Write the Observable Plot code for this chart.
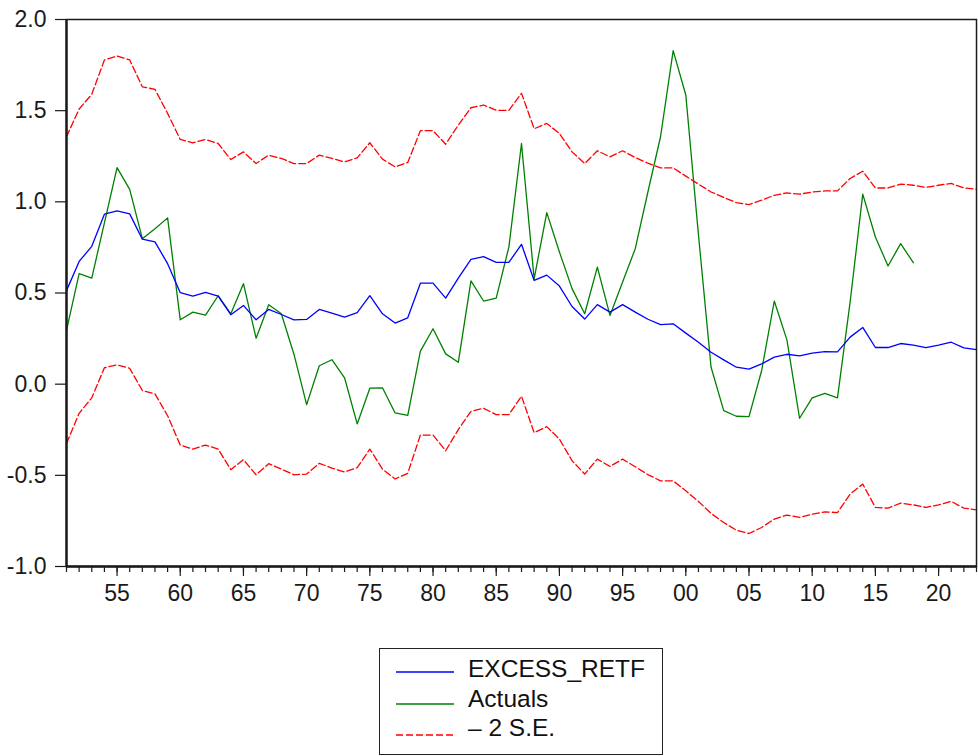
<!DOCTYPE html>
<html>
<head>
<meta charset="utf-8">
<script src="https://cdn.jsdelivr.net/npm/d3@7"></script>
<script src="https://cdn.jsdelivr.net/npm/@observablehq/plot@0.6"></script>
<style>
  html, body { margin: 0; padding: 0; background: #fff; }
  body { width: 978px; height: 756px; position: relative; overflow: hidden;
         font-family: "Liberation Sans", Arial, sans-serif; }
  #legend { position: absolute; left: 379px; top: 648px; width: 284px; height: 107px;
            border: 1px solid #222; box-sizing: border-box; background: #fff; }
  .row { position: absolute; left: 0; height: 30px; display: flex; align-items: center; }
  .row svg { margin-left: 16px; margin-right: 14px; }
  .row span { font-size: 24.5px; color: #111; }
</style>
</head>
<body>
<div id="chart"></div>
<div id="legend"></div>
<script>
// Annual observations, 1951–2023
const years = d3.range(1951, 2024);

// Forecast of excess returns (EXCESS_RETF)
const forecast = [
  0.513, 0.673, 0.756, 0.932, 0.950, 0.934, 0.795, 0.780, 0.661, 0.502,
  0.483, 0.503, 0.483, 0.381, 0.432, 0.353, 0.410, 0.382, 0.353, 0.355,
  0.410, 0.390, 0.368, 0.392, 0.485, 0.386, 0.335, 0.364, 0.554, 0.554,
  0.472, 0.582, 0.685, 0.699, 0.668, 0.668, 0.767, 0.569, 0.598, 0.538,
  0.426, 0.357, 0.436, 0.395, 0.436, 0.395, 0.356, 0.327, 0.331, 0.280,
  0.230, 0.175, 0.133, 0.093, 0.082, 0.111, 0.148, 0.164, 0.155, 0.170,
  0.179, 0.177, 0.258, 0.311, 0.201, 0.201, 0.223, 0.214, 0.201, 0.214,
  0.230, 0.199, 0.190
];

// Upper band: forecast + 2 standard errors
const upperBand = [
  1.357, 1.509, 1.590, 1.778, 1.800, 1.778, 1.631, 1.617, 1.485, 1.342,
  1.324, 1.342, 1.320, 1.232, 1.274, 1.210, 1.256, 1.238, 1.210, 1.210,
  1.256, 1.238, 1.219, 1.241, 1.324, 1.234, 1.192, 1.216, 1.390, 1.390,
  1.316, 1.421, 1.516, 1.531, 1.502, 1.502, 1.595, 1.401, 1.430, 1.375,
  1.274, 1.210, 1.280, 1.247, 1.280, 1.243, 1.212, 1.186, 1.186, 1.141,
  1.097, 1.054, 1.024, 0.996, 0.985, 1.009, 1.036, 1.049, 1.042, 1.054,
  1.060, 1.060, 1.128, 1.168, 1.076, 1.076, 1.097, 1.091, 1.079, 1.091,
  1.101, 1.076, 1.069
];

// Lower band: forecast - 2 standard errors
const lowerBand = [
  -0.325, -0.160, -0.075, 0.090, 0.106, 0.087, -0.035, -0.053, -0.173, -0.334,
  -0.356, -0.334, -0.356, -0.469, -0.414, -0.497, -0.436, -0.466, -0.497, -0.493,
  -0.434, -0.460, -0.482, -0.458, -0.356, -0.466, -0.520, -0.489, -0.279, -0.279,
  -0.365, -0.249, -0.149, -0.132, -0.167, -0.167, -0.066, -0.266, -0.233, -0.301,
  -0.420, -0.493, -0.411, -0.451, -0.411, -0.453, -0.496, -0.530, -0.530, -0.585,
  -0.643, -0.709, -0.759, -0.801, -0.819, -0.786, -0.740, -0.718, -0.731, -0.713,
  -0.700, -0.704, -0.603, -0.548, -0.676, -0.680, -0.652, -0.662, -0.676, -0.662,
  -0.643, -0.680, -0.689
];

// Realised excess returns, available through 2018
const actuals = [
  0.295, 0.606, 0.582, 0.885, 1.188, 1.068, 0.798, 0.853, 0.912, 0.353,
  0.395, 0.379, 0.485, 0.386, 0.551, 0.252, 0.436, 0.386, 0.163, -0.112,
  0.101, 0.134, 0.035, -0.218, -0.022, -0.020, -0.158, -0.171, 0.181, 0.304,
  0.166, 0.120, 0.567, 0.456, 0.472, 0.752, 1.320, 0.578, 0.941, 0.725,
  0.524, 0.386, 0.642, 0.377, 0.560, 0.743, 1.054, 1.357, 1.829, 1.586,
  0.820, 0.093, -0.145, -0.176, -0.178, 0.075, 0.456, 0.243, -0.187, -0.075,
  -0.050, -0.075, 0.450, 1.042, 0.807, 0.648, 0.771, 0.666
];

// Axis ticks
const yTicks = [-1.0, -0.5, 0.0, 0.5, 1.0, 1.5, 2.0];
const labelYears = [1955, 1960, 1965, 1970, 1975, 1980, 1985, 1990, 1995, 2000, 2005, 2010, 2015, 2020];

// Series names and styles
const seriesNames = ["EXCESS_RETF", "Actuals", "\u2013 2 S.E."];
const seriesColors = ["#0000ff", "#008000", "#ff0000"];
const seriesDash = [null, null, "7,3"];

const rows = years.map((year, i) => ({
  year,
  forecast: forecast[i],
  upper: upperBand[i],
  lower: lowerBand[i],
  actual: i < actuals.length ? actuals[i] : null
}));
const actualRows = rows.filter(d => d.actual != null);

const ink = "#1a1a1a";
const lineWidth = 1.3;

const chart = Plot.plot({
  width: 978,
  height: 618,
  marginLeft: 66,
  marginRight: 2,
  marginTop: 19,
  marginBottom: 52,
  style: {
    fontFamily: "'Liberation Sans', Arial, sans-serif",
    fontSize: "23px",
    color: ink,
    background: "#fff",
    overflow: "visible"
  },
  x: { domain: [years[0], years[years.length - 1]] },
  y: { domain: [yTicks[0], yTicks[yTicks.length - 1]] },
  marks: [
    Plot.lineY(rows, { x: "year", y: "upper", stroke: seriesColors[2], strokeWidth: lineWidth, strokeDasharray: seriesDash[2] }),
    Plot.lineY(rows, { x: "year", y: "lower", stroke: seriesColors[2], strokeWidth: lineWidth, strokeDasharray: seriesDash[2] }),
    Plot.lineY(actualRows, { x: "year", y: "actual", stroke: seriesColors[1], strokeWidth: lineWidth }),
    Plot.lineY(rows, { x: "year", y: "forecast", stroke: seriesColors[0], strokeWidth: lineWidth }),
    Plot.frame({ stroke: ink, strokeWidth: 1.5 }),
    Plot.ruleX([years[0]], { stroke: ink, strokeWidth: 2.4 }),
    Plot.ruleY([yTicks[0]], { stroke: ink, strokeWidth: 2.4 }),
    Plot.axisY({
      ticks: yTicks, tickSize: 11, tickPadding: 9, label: null,
      tickFormat: d => d.toFixed(1), fontSize: 23, stroke: ink, strokeWidth: 1.2
    }),
    Plot.axisX({
      ticks: years, tickSize: 6, label: null, tickFormat: () => "",
      stroke: ink, strokeWidth: 1.2
    }),
    Plot.axisX({
      ticks: labelYears, tickSize: 10, tickPadding: 8, label: null,
      tickFormat: d => String(d % 100).padStart(2, "0"),
      fontSize: 23, stroke: ink, strokeWidth: 1.2
    })
  ]
});
document.getElementById("chart").appendChild(chart);

// Legend with line samples
const legend = document.getElementById("legend");
seriesNames.forEach((name, i) => {
  const row = document.createElement("div");
  row.className = "row";
  row.style.top = (5 + i * 29.5) + "px";
  const sw = d3.create("svg").attr("width", 58).attr("height", 30);
  sw.append("line")
    .attr("x1", 0).attr("x2", 58).attr("y1", 18 + i * 2).attr("y2", 18 + i * 2)
    .attr("stroke", seriesColors[i]).attr("stroke-width", lineWidth)
    .attr("stroke-dasharray", seriesDash[i]);
  row.appendChild(sw.node());
  const label = document.createElement("span");
  label.textContent = name;
  row.appendChild(label);
  legend.appendChild(row);
});
</script>
</body>
</html>
